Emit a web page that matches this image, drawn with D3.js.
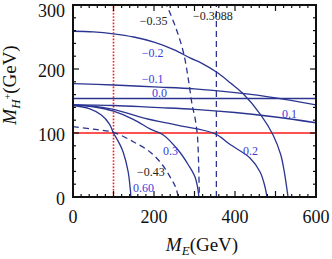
<!DOCTYPE html>
<html><head><meta charset="utf-8">
<script src="https://cdn.jsdelivr.net/npm/d3@7/dist/d3.min.js"></script>
<style>
html,body{margin:0;padding:0;background:#fff;}
text{font-family:"Liberation Serif","Times New Roman",serif;}
</style></head>
<body><svg id="c" width="332" height="259"></svg>
<script>
// ---- data ----
const xTickLabels = [0, 200, 400, 600];
const yTickLabels = [0, 100, 200, 300];
const cM020 = [[0,259],[50,258],[100,255],[150,250],[200,242],[250,230],[290,217],[315,210],[357,194],[389,178],[419,162],[464,128],[494,97],[513,66],[521,42],[531,0]];
const cM010 = [[0,177],[100,175],[200,172],[300,169],[400,163],[500,155],[600,144]];
const cZ000 = [[0,154],[600,154]];
const cP010 = [[0,144],[100,143],[200,140],[300,137],[400,132],[500,125],[600,116]];
const cP020 = [[0,144],[50,142],[100,137],[178,123],[260,112],[350,99],[388,82],[437,61],[462,39],[474,16],[479,0]];
const cP030 = [[0,144],[50,141],[100,134],[150,121],[191,106],[223,97],[260,73],[285,50],[302,30],[311,0]];
const cP060 = [[0,143],[40,138],[70,128],[90,114],[100,100],[115,83],[124,70],[136,40],[141,15],[143,0]];
const cM043 = [[0,110],[50,106],[100,101],[150,86],[191,70],[221,50],[240,31],[253,16],[260,0]];
const cM035 = [[227,306],[253,266],[273,225],[285,183],[295,141],[300,128],[307,97],[310,55],[312,0]];
const cM03088 = [[354,0],[354,300]];
const redH = [[0,100],[600,100]];
const redV = [[100,0],[100,300]];
const labelTexts = ["−0.35","−0.3088","−0.2","−0.1","0.0","0.1","0.2","0.3","−0.43","0.60"];
const labelX = [165,296,170,170,195,516,420,222,158,148];
const labelY = [269,277,219,178,156,123,66,66,33,8];
const labelDark = [true,true,false,false,false,false,false,false,true,false];

// ---- layout ----
const L=73, R=316, T=5, B=197;
const x = d3.scaleLinear().domain([0,600]).range([L,R]);
const y = d3.scaleLinear().domain([0,300]).range([B,T]);
const svg = d3.select("#c");
const navy = "#2b3590", lblBlue = "#3b3be0", red = "#ff1a1a";

svg.append("defs").append("clipPath").attr("id","clip")
  .append("rect").attr("x",L).attr("y",T).attr("width",R-L).attr("height",B-T);
const g = svg.append("g").attr("clip-path","url(#clip)");
const line = d3.line().x(d=>x(d[0])).y(d=>y(d[1])).curve(d3.curveCatmullRom.alpha(0.5));
const straight = d3.line().x(d=>x(d[0])).y(d=>y(d[1]));

function draw(data, opts){
  g.append("path").attr("d",(opts.straight?straight:line)(data))
   .attr("fill","none").attr("stroke",opts.color||navy)
   .attr("stroke-width",opts.w||1.3)
   .attr("stroke-dasharray",opts.dash||null);
}
draw(redH,{color:red,w:1.6,straight:true});
draw(redV,{color:red,w:1.6,dash:"1.6,1.6",straight:true});
[cM020,cM010,cP010,cP020,cP030,cP060].forEach(c=>draw(c,{}));
draw(cZ000,{straight:true,w:1.5});
draw(cM043,{dash:"6,4"});
draw(cM035,{dash:"6,4"});
draw(cM03088,{dash:"6,4",straight:true});

// ---- axes frame with inward ticks ----
const minorX = d3.range(0,601,20), minorY = d3.range(0,301,20);
const ax = svg.append("g").attr("stroke","#111").attr("stroke-width",1.2);
minorX.forEach(v=>{
  const len = v%100===0?6:3;
  ax.append("line").attr("x1",x(v)).attr("x2",x(v)).attr("y1",B).attr("y2",B-len);
  ax.append("line").attr("x1",x(v)).attr("x2",x(v)).attr("y1",T).attr("y2",T+len);
});
minorY.forEach(v=>{
  const len = v%100===0?6:3;
  ax.append("line").attr("y1",y(v)).attr("y2",y(v)).attr("x1",L).attr("x2",L+len);
  ax.append("line").attr("y1",y(v)).attr("y2",y(v)).attr("x1",R).attr("x2",R-len);
});
svg.append("rect").attr("x",L).attr("y",T).attr("width",R-L).attr("height",B-T)
  .attr("fill","none").attr("stroke","#111").attr("stroke-width",2);

// tick labels
svg.append("g").selectAll("text").data(xTickLabels).join("text")
  .attr("x",d=>x(d)).attr("y",223).attr("text-anchor","middle")
  .attr("font-size",18).attr("fill","#111").text(d=>d);
svg.append("g").selectAll("text").data(yTickLabels).join("text")
  .attr("x",65).attr("y",d=>Math.max(y(d)+8,16.5)).attr("text-anchor","end")
  .attr("font-size",18).attr("fill","#111").text(d=>d);

// curve labels
svg.append("g").selectAll("text").data(labelTexts).join("text")
  .attr("x",(d,i)=>x(labelX[i])).attr("y",(d,i)=>y(labelY[i]))
  .attr("font-size",12).attr("fill",(d,i)=>labelDark[i]?"#222":lblBlue)
  .text(d=>d);

// axis titles
const xt = svg.append("text").attr("x",202).attr("y",251).attr("text-anchor","middle")
  .attr("font-size",19).attr("fill","#111");
xt.append("tspan").attr("font-style","italic").text("M");
xt.append("tspan").attr("font-style","italic").attr("font-size",13).attr("dy",4).text("E");
xt.append("tspan").attr("dy",-4).text("(GeV)");

const yt = svg.append("text").attr("transform","translate(16,85) rotate(-90)")
  .attr("text-anchor","middle").attr("font-size",19).attr("fill","#111");
yt.append("tspan").attr("font-style","italic").text("M");
yt.append("tspan").attr("font-style","italic").attr("font-size",13).attr("dy",4).text("H");
yt.append("tspan").attr("font-size",10).attr("dy",-9).text("+");
yt.append("tspan").attr("dy",5).text("(GeV)");
</script></body></html>
